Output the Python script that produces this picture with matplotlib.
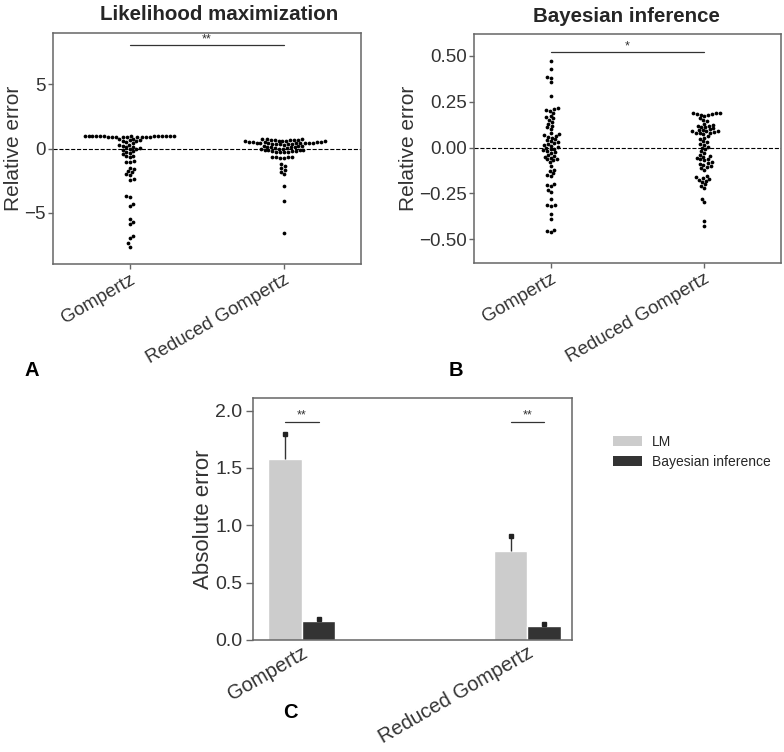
import numpy as np
import pandas as pd
import matplotlib
matplotlib.use('Agg')
import matplotlib.pyplot as plt
import seaborn as sns
from matplotlib.patches import Patch

categories = ['Gompertz', 'Reduced Gompertz']
titles = ['Likelihood maximization', 'Bayesian inference']

# Panel A: relative error, likelihood maximization
lm_gompertz = [1.0, 0.995, 0.99, 0.985, 0.98, 0.975, 0.97, 0.965, 0.96, 0.955, 0.95, 0.945,
               0.94, 0.935, 0.93, 0.925, 0.92, 0.91, 0.90, 0.89, 0.88, 0.87,
               0.75, 0.72, 0.68, 0.65, 0.6, 0.55, 0.5, 0.45,
               0.3, 0.25, 0.2, 0.15, 0.1, 0.05, 0.0, -0.05, -0.1, -0.2, -0.3, -0.38, -0.45,
               -0.55, -0.6, -0.7,
               -1.0, -1.02, -1.07, -1.5, -1.6, -1.75, -1.85, -2.0, -2.1, -2.4, -2.45,
               -3.7, -3.8, -4.3, -4.5, -5.5, -5.7, -5.9, -6.8, -7.0, -7.4, -7.65]
lm_reduced = [0.75, 0.74, 0.72, 0.70, 0.68, 0.66, 0.65, 0.63, 0.62, 0.60, 0.58, 0.57,
              0.55, 0.53, 0.52, 0.50, 0.48, 0.47, 0.46, 0.45, 0.44, 0.43, 0.42, 0.41,
              0.40, 0.39, 0.38, 0.37, 0.36, 0.35, 0.33, 0.30,
              0.23, 0.2, 0.17, 0.15, 0.12, 0.1, 0.08, 0.05, 0.03, 0.0, -0.02, -0.05,
              -0.08, -0.1, -0.12, -0.15, -0.17, -0.2, -0.22, -0.25, -0.27, -0.29, -0.3,
              -0.63, -0.65, -0.67, -0.69, -0.71, -0.73,
              -1.2, -1.35, -1.5, -1.65, -1.8, -2.0, -2.9, -4.06, -6.6]

# Panel B: relative error, Bayesian inference
bayes_gompertz = [0.47, 0.43, 0.387, 0.38, 0.356, 0.283,
                  0.215, 0.21, 0.205, 0.2, 0.19,
                  0.175, 0.165, 0.16, 0.15, 0.14, 0.13, 0.12, 0.11, 0.10,
                  0.077, 0.072, 0.068, 0.065, 0.06, 0.055,
                  0.045, 0.04, 0.035, 0.03, 0.025, 0.02, 0.015, 0.01, 0.005, 0.0, -0.005, -0.01,
                  -0.015, -0.02, -0.025, -0.03, -0.04, -0.045, -0.05, -0.055, -0.06, -0.065,
                  -0.07, -0.08, -0.1,
                  -0.12, -0.13, -0.14, -0.15, -0.155,
                  -0.2, -0.205, -0.21, -0.23, -0.245, -0.28,
                  -0.315, -0.315, -0.32, -0.365, -0.39, -0.45, -0.455, -0.46]
bayes_reduced = [0.19, 0.19, 0.188, 0.185, 0.183, 0.18, 0.178, 0.175,
                 0.16, 0.15, 0.145,
                 0.13, 0.125, 0.12, 0.118, 0.115, 0.11, 0.105, 0.1, 0.098, 0.095, 0.092,
                 0.09, 0.088, 0.085, 0.082, 0.08, 0.078, 0.075,
                 0.065, 0.055, 0.045, 0.035, 0.03, 0.02,
                 0.015, 0.005, 0.0, -0.01, -0.02,
                 -0.03, -0.04, -0.045, -0.05, -0.055, -0.06, -0.065, -0.07, -0.08, -0.085,
                 -0.09, -0.095, -0.1, -0.105, -0.11, -0.12,
                 -0.155, -0.16, -0.165, -0.17, -0.175, -0.18, -0.19, -0.2, -0.21, -0.22,
                 -0.28, -0.295, -0.40, -0.43]

# Panel C: absolute error (mean and upper error)
legend_labels = ['LM', 'Bayesian inference']
abs_lm_mean = [1.58, 0.78]
abs_lm_err = [0.22, 0.13]
abs_bayes_mean = [0.165, 0.12]
abs_bayes_err = [0.018, 0.016]

sig_A = '**'
sig_B = '*'
sig_C = ['**', '**']

sns.set_style('ticks')
plt.rcParams['font.family'] = ['Liberation Sans', 'DejaVu Sans']

spine_col = '#666666'
text_col = '#333333'
tick_fs = 13.5
label_fs = 15

fig = plt.figure(figsize=(7.84, 7.52), dpi=100)
axA = fig.add_axes([53/784, 1-264/752, (361-53)/784, (264-33)/752])
axB = fig.add_axes([474/784, 1-263/752, (781-474)/784, (263-34)/752])
axC = fig.add_axes([253/784, 1-640/752, (572-253)/784, (640-398)/752])


def style_ax(ax, length=3.5, pad=2.0):
    for s in ax.spines.values():
        s.set_color(spine_col)
        s.set_linewidth(1.1)
    ax.tick_params(axis='both', colors=spine_col, labelcolor=text_col,
                   labelsize=tick_fs, length=length, width=1, pad=pad)


def swarm(ax, a, b, title, title_x, ylim, yticks, fmt, sig, sig_y):
    df = pd.DataFrame({'model': [categories[0]] * len(a) + [categories[1]] * len(b),
                       'err': list(a) + list(b)})
    ax.axhline(0, color='black', ls='--', lw=0.8, zorder=1)
    sns.swarmplot(data=df, x='model', y='err', order=categories, color='black',
                  size=2.7, ax=ax, zorder=3)
    ax.set_xlim(-0.5, 1.5)
    ax.set_ylim(*ylim)
    ax.set_yticks(yticks)
    ax.set_yticklabels([fmt.format(v).replace('-', '\u2212') for v in yticks])
    ax.set_xlabel('')
    ax.set_ylabel('Relative error', fontsize=label_fs, color=text_col, labelpad=1)
    ax.set_xticks([0, 1])
    ax.set_xticklabels(categories, rotation=30, ha='right', rotation_mode='anchor')
    ax.set_title(title, fontsize=14.8, fontweight='bold', pad=9, x=title_x)
    ax.plot([0, 1], [sig_y, sig_y], color='#333333', lw=0.9)
    ax.text(0.5, sig_y, sig, ha='center', va='bottom', fontsize=9, color=text_col)
    style_ax(ax, length=3.5, pad=1.5)


swarm(axA, lm_gompertz, lm_reduced, titles[0], 0.539, (-9, 9), [-5, 0, 5], '{:d}', sig_A, 8.05)
swarm(axB, bayes_gompertz, bayes_reduced, titles[1], 0.495, (-0.63, 0.62),
      [-0.5, -0.25, 0.0, 0.25, 0.5], '{:.2f}', sig_B, 0.52)

# Panel C
x = np.arange(len(categories))
w = 0.15
lm_col = '#cccccc'
by_col = '#333333'
axC.bar(x - w/2, abs_lm_mean, width=w, color=lm_col, zorder=2)
axC.bar(x + w/2, abs_bayes_mean, width=w, color=by_col, zorder=2)
for xs, m, e in [(x - w/2, abs_lm_mean, abs_lm_err), (x + w/2, abs_bayes_mean, abs_bayes_err)]:
    m = np.array(m); e = np.array(e)
    axC.vlines(xs, m, m + e, color='#333333', lw=1.0, zorder=3)
    axC.plot(xs, m + e, 's', color='#222222', ms=2.6, zorder=4)
for i, s in enumerate(sig_C):
    axC.plot([x[i] - w/2, x[i] + w/2], [1.905, 1.905], color='#333333', lw=0.9)
    axC.text(x[i], 1.905, s, ha='center', va='bottom', fontsize=9, color=text_col)
axC.set_xlim(-0.215, 1.197)
axC.set_ylim(0, 2.11)
axC.set_yticks([0, 0.5, 1.0, 1.5, 2.0])
axC.set_yticklabels(['0.0', '0.5', '1.0', '1.5', '2.0'])
axC.set_xticks(x)
axC.set_xticklabels(categories, rotation=30, ha='right', rotation_mode='anchor')
axC.set_ylabel('Absolute error', fontsize=16, color=text_col, labelpad=1)
style_ax(axC, length=5, pad=2.5)
axC.tick_params(axis='x', length=0, labelsize=14.5)
axC.tick_params(axis='y', labelsize=14)

handles = [Patch(facecolor=lm_col, edgecolor='none'), Patch(facecolor=by_col, edgecolor='none')]
fig.legend(handles, legend_labels, loc='center left', bbox_to_anchor=(613/784, 1-452/752),
           frameon=False, fontsize=10, handlelength=2.1, handleheight=0.75,
           handletextpad=0.7, labelspacing=0.45, borderpad=0, borderaxespad=0)

for lab, px, py in [('A', 32, 370), ('B', 456, 370), ('C', 290, 713)]:
    fig.text(px/784, 1-py/752, lab, fontsize=14.5, fontweight='bold', ha='center', va='center',
             color='black')

fig.savefig('out.png', dpi=100)
